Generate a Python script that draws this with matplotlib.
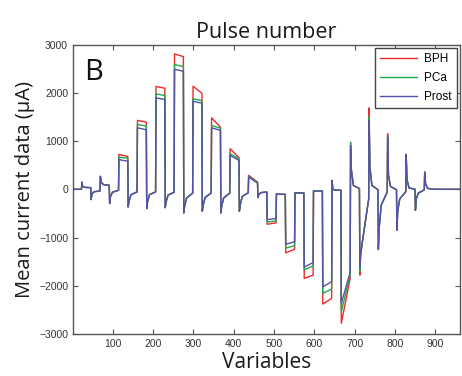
import matplotlib
matplotlib.use("Agg")
import matplotlib.pyplot as plt

# one segment = 23 samples, 42 segments in the record
seg_len = 23
n_seg = 42

# shape of the "rest" segments (shared by the three curves)
# value at segment start, 2 samples in, 7 samples in, and at the segment end
first = [0, 150, -213, 270, -296, None, -366, None, -400, None, -380, None, -490, None,
         -455, None, -490, None, -455, None, -170, None, -90, None, -70, None, -30, None,
         186, None, 911, -1608, 1428, -1248, 1083, -849, 725, -435, 358, 0, 0, 0]
early = [0, 60, -100, 150, -150, None, -250, None, -260, None, -260, None, -350, None,
         -330, None, -350, None, -320, None, -110, None, -100, None, -76, None, -35, None,
         0, None, 400, -1350, 450, -800, 300, -450, 200, -200, 120, 0, 0, 0]
knee = [0, 40, -50, 100, -60, None, -110, None, -110, None, -120, None, -180, None,
        -170, None, -180, None, -150, None, -70, None, -104, None, -76, None, -35, None,
        -15, None, 80, -1050, 80, -330, 60, -200, 30, -80, 20, 0, 0, 0]
last = [0, 35, -35, 83, -20, None, -55, None, -55, None, -60, None, -80, None,
        -75, None, -80, None, -70, None, -55, None, -104, None, -76, None, -35, None,
        -20, None, 15, -200, -10, -55, -10, -50, 0, -10, 0, 0, 0, 0]
offsets = [0, 2, 7, 22]

# spikes that differ between the curves
spike_idx = [30, 31, 32, 34]
red_spike = [850, -1780, 1690, 1153]
green_spike = [980, -1700, 1500, 1110]
blue_spike = [911, -1608, 1428, 1083]

# pulse segments: level at start and end of the plateau
pulse_idx = [5, 7, 9, 11, 13, 15, 17, 19, 21, 23, 25, 27, 29]
red_start = [725, 1430, 2133, 2809, 2139, 1484, 842, 290, -725, -1318, -1850, -2381, -2780]
red_end = [683, 1394, 2098, 2754, 1994, 1290, 656, 151, -697, -1245, -1780, -2264, -1850]
green_start = [669, 1346, 1981, 2588, 1878, 1325, 739, 270, -677, -1220, -1670, -2160, -2540]
green_end = [645, 1312, 1947, 2547, 1840, 1270, 630, 140, -660, -1170, -1590, -2070, -1780]
blue_start = [615, 1277, 1898, 2491, 1828, 1277, 704, 255, -628, -1140, -1615, -2022, -2366]
blue_end = [586, 1236, 1863, 2450, 1787, 1222, 600, 130, -608, -1090, -1520, -1918, -1720]

names = ["BPH", "PCa", "Prost"]
colors = ["#ee2b2b", "#22a84a", "#5252aa"]


def build(p_start, p_end, spikes):
    xs, ys = [], []
    for k in range(n_seg):
        t = k * seg_len
        if k in pulse_idx:
            j = pulse_idx.index(k)
            xs += [t, t + 22]
            ys += [p_start[j], p_end[j]]
        else:
            vals = [first[k], early[k], knee[k], last[k]]
            if k in spike_idx:
                vals[0] = spikes[spike_idx.index(k)]
            for o, v in zip(offsets, vals):
                xs.append(max(t + o, 1))
                ys.append(v)
    return xs, ys


curves = [build(red_start, red_end, red_spike),
          build(green_start, green_end, green_spike),
          build(blue_start, blue_end, blue_spike)]

fig = plt.figure(figsize=(4.62, 3.76), dpi=100)
ax = fig.add_axes([0.158, 0.112, 0.838, 0.769])

for (xs, ys), c, n in zip(curves, colors, names):
    ax.plot(xs, ys, color=c, lw=1.0, label=n)

ax.set_xlim(1, 962)
ax.set_ylim(-3000, 3000)
ax.set_xticks(range(100, 1000, 100))
ax.set_yticks(range(-3000, 3001, 1000))
ax.tick_params(direction="in", top=True, right=True, length=3.5, width=0.8,
               colors="#555555", labelcolor="#333333", labelsize=7.5)
for lab in ax.get_xticklabels() + ax.get_yticklabels():
    lab.set_family("Liberation Sans")
for s in ax.spines.values():
    s.set_color("#555555")
    s.set_linewidth(1.0)

ax.set_title("Pulse number", fontsize=15.5, family="Open Sans", color="#1a1a1a", pad=5)
ax.set_xlabel("Variables", fontsize=15, family="Open Sans", color="#1a1a1a", labelpad=2)
ax.set_ylabel("Mean current data (μA)", fontsize=14.5, family="Open Sans", color="#1a1a1a", labelpad=3)

ax.text(0.03, 0.955, "B", transform=ax.transAxes, fontsize=21, family="Open Sans",
        va="top", ha="left", color="#111111")

leg = ax.legend(loc="upper right", prop={"family": "Liberation Sans", "size": 8.5},
                fancybox=False, framealpha=1, edgecolor="#444444", handlelength=3.2,
                handletextpad=0.6, labelspacing=0.6, borderaxespad=0.3)
leg.get_frame().set_linewidth(1.0)

fig.savefig("out.png", dpi=100, facecolor="white")
